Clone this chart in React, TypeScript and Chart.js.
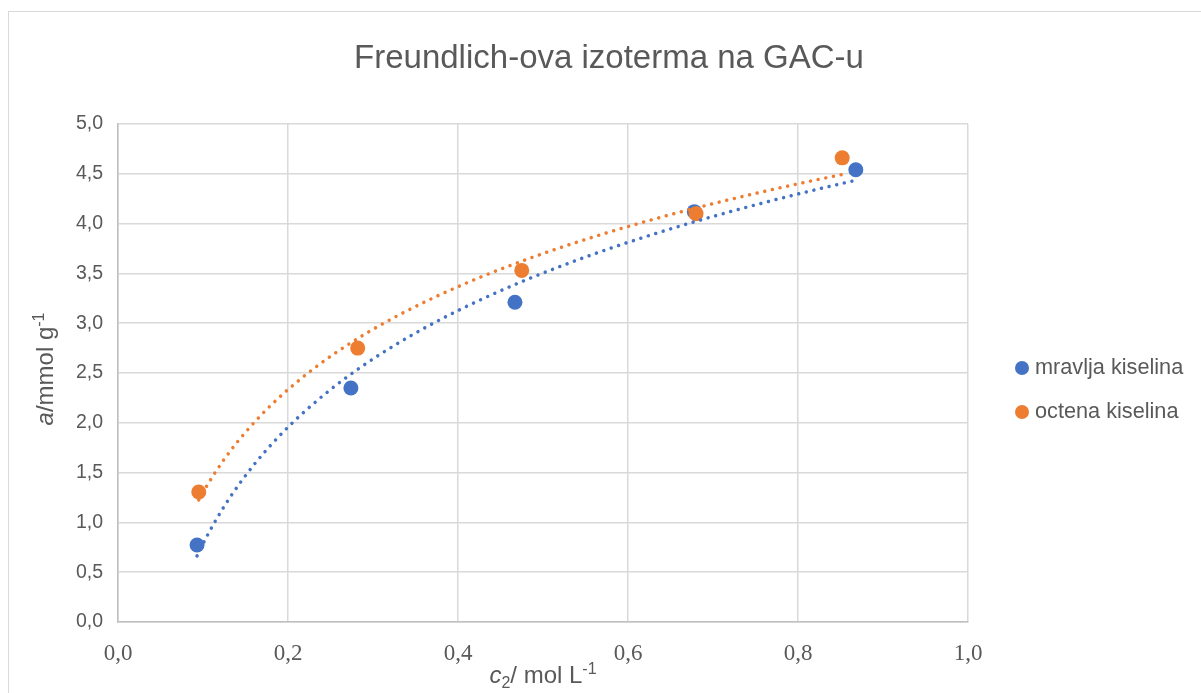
import React, { useEffect, useRef } from 'react';
import { Chart, registerables } from 'chart.js';

Chart.register(...registerables);

// ---- data ----
const chartTitle = 'Freundlich-ova izoterma na GAC-u';
const seriesNames = ['mravlja kiselina', 'octena kiselina'];
const mravljaX = [0.093, 0.274, 0.467, 0.678, 0.868];
const mravljaY = [0.773, 2.35, 3.21, 4.12, 4.54];
const octenaX = [0.095, 0.282, 0.475, 0.68, 0.852];
const octenaY = [1.305, 2.75, 3.53, 4.1, 4.66];
const xTickLabels = ['0,0', '0,2', '0,4', '0,6', '0,8', '1,0'];
const yTickLabels = ['0,0', '0,5', '1,0', '1,5', '2,0', '2,5', '3,0', '3,5', '4,0', '4,5', '5,0'];

const BLUE = '#4472C4';
const ORANGE = '#ED7D31';
const TEXT = '#595959';
const SANS = '"Liberation Sans", Arial, sans-serif';
const SERIF = '"Liberation Serif", "Times New Roman", serif';

// Logarithmic least-squares trendline (y = A + B ln x), as the spreadsheet's trendline
function logTrend(xs: number[], ys: number[], samples = 80) {
  const lx = xs.map((v) => Math.log(v));
  const n = xs.length;
  const mx = lx.reduce((a, b) => a + b, 0) / n;
  const my = ys.reduce((a, b) => a + b, 0) / n;
  let sxy = 0;
  let sxx = 0;
  for (let i = 0; i < n; i++) {
    sxy += (lx[i] - mx) * (ys[i] - my);
    sxx += (lx[i] - mx) * (lx[i] - mx);
  }
  const B = sxy / sxx;
  const A = my - B * mx;
  const x0 = Math.min(...xs);
  const x1 = Math.max(...xs);
  const pts: { x: number; y: number }[] = [];
  for (let i = 0; i <= samples; i++) {
    const x = x0 + ((x1 - x0) * i) / samples;
    pts.push({ x, y: A + B * Math.log(x) });
  }
  return pts;
}

type Part = { t: string; italic?: boolean; sub?: boolean; sup?: boolean };

function drawRich(ctx: CanvasRenderingContext2D, parts: Part[], cx: number, baseY: number, size: number) {
  const fontFor = (p: Part) =>
    `${p.italic ? 'italic ' : ''}${p.sub || p.sup ? Math.round(size * 0.65) : size}px ${SANS}`;
  let total = 0;
  const widths = parts.map((p) => {
    ctx.font = fontFor(p);
    const w = ctx.measureText(p.t).width;
    total += w;
    return w;
  });
  let x = cx - total / 2;
  ctx.textAlign = 'left';
  ctx.textBaseline = 'alphabetic';
  parts.forEach((p, i) => {
    ctx.font = fontFor(p);
    const dy = p.sub ? size * 0.22 : p.sup ? -size * 0.36 : 0;
    ctx.fillText(p.t, x, baseY + dy);
    x += widths[i];
  });
}

const decorPlugin = {
  id: 'decor',
  afterDraw(chart: any) {
    const ctx: CanvasRenderingContext2D = chart.ctx;
    const area = chart.chartArea;
    ctx.save();
    ctx.fillStyle = TEXT;

    // Title
    ctx.font = `33px ${SANS}`;
    ctx.textAlign = 'center';
    ctx.textBaseline = 'alphabetic';
    ctx.fillText(chartTitle, 600, 56);

    // X axis title
    drawRich(
      ctx,
      [{ t: 'c', italic: true }, { t: '2', sub: true }, { t: '/ mol L' }, { t: '-1', sup: true }],
      (area.left + area.right) / 2,
      671,
      24
    );

    // Y axis title (rotated)
    ctx.save();
    ctx.translate(44, (area.top + area.bottom) / 2 - 4);
    ctx.rotate(-Math.PI / 2);
    drawRich(ctx, [{ t: 'a', italic: true }, { t: '/mmol g' }, { t: '-1', sup: true }], 0, 0, 24);
    ctx.restore();

    // Legend
    const legend = [
      { name: seriesNames[0], color: BLUE, y: 356 },
      { name: seriesNames[1], color: ORANGE, y: 400 },
    ];
    legend.forEach((l) => {
      ctx.beginPath();
      ctx.fillStyle = l.color;
      ctx.arc(1013, l.y, 7, 0, Math.PI * 2);
      ctx.fill();
      ctx.fillStyle = TEXT;
      ctx.font = `21.7px ${SANS}`;
      ctx.textAlign = 'left';
      ctx.textBaseline = 'alphabetic';
      ctx.fillText(l.name, 1026, l.y + 6);
    });
    ctx.restore();
  },
};

export default function App() {
  const ref = useRef<HTMLCanvasElement | null>(null);

  useEffect(() => {
    document.documentElement.style.overflow = 'hidden';
    document.body.style.overflow = 'hidden';
    if (!ref.current) return;
    const toPts = (xs: number[], ys: number[]) => xs.map((x, i) => ({ x, y: ys[i] }));
    const trendStyle = {
      showLine: true,
      borderWidth: 3.5,
      borderDash: [0.01, 7.8],
      borderCapStyle: 'round',
      pointRadius: 0,
      tension: 0,
    };
    const chart = new Chart(ref.current, {
      type: 'scatter',
      data: {
        datasets: [
          {
            label: seriesNames[0],
            data: toPts(mravljaX, mravljaY),
            backgroundColor: BLUE,
            borderColor: BLUE,
            pointRadius: 7.5,
            pointBorderWidth: 0,
            order: 4,
          },
          {
            label: seriesNames[1],
            data: toPts(octenaX, octenaY),
            backgroundColor: ORANGE,
            borderColor: ORANGE,
            pointRadius: 7.5,
            pointBorderWidth: 0,
            order: 3,
          },
          {
            label: 'trend ' + seriesNames[0],
            data: logTrend(mravljaX, mravljaY),
            borderColor: BLUE,
            ...trendStyle,
            order: 2,
          } as any,
          {
            label: 'trend ' + seriesNames[1],
            data: logTrend(octenaX, octenaY),
            borderColor: ORANGE,
            ...trendStyle,
            order: 1,
          } as any,
        ],
      },
      options: {
        animation: false,
        responsive: false,
        devicePixelRatio: 1,
        layout: { padding: { left: 0, top: 112, right: 231, bottom: 20 } },
        plugins: {
          legend: { display: false },
          title: { display: false },
          tooltip: { enabled: false },
        },
        scales: {
          x: {
            type: 'linear',
            min: 0,
            max: 1,
            ticks: {
              stepSize: 0.2,
              padding: 18,
              color: TEXT,
              font: { family: SERIF, size: 23 },
              callback: (_v: any, i: number) => xTickLabels[i],
            },
            grid: { color: '#d9d9d9', lineWidth: 1.5, drawTicks: false },
            border: { color: '#bfbfbf', width: 1.5 },
            afterFit: (s: any) => {
              s.height = 60;
            },
          },
          y: {
            type: 'linear',
            min: 0,
            max: 5,
            ticks: {
              stepSize: 0.5,
              padding: 15,
              color: TEXT,
              font: { family: SANS, size: 19.5 },
              callback: (_v: any, i: number) => yTickLabels[i],
            },
            grid: { color: '#d9d9d9', lineWidth: 1.5, drawTicks: false },
            border: { color: '#bfbfbf', width: 1.5 },
            afterFit: (s: any) => {
              s.width = 109;
            },
          },
        },
      },
      plugins: [decorPlugin],
    });
    return () => chart.destroy();
  }, []);

  return (
    <div
      style={{
        position: 'absolute',
        left: 8,
        top: 11,
        width: 1200,
        height: 700,
        border: '1px solid #d9d9d9',
        boxSizing: 'border-box',
        background: '#fff',
      }}
    >
      <canvas
        ref={ref}
        width={1190}
        height={690}
        style={{ position: 'absolute', left: 0, top: 0, width: 1190, height: 690, display: 'block' }}
      />
    </div>
  );
}
